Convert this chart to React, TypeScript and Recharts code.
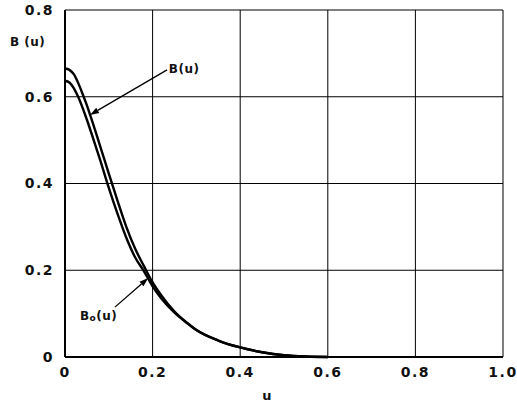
import { LineChart, Line, XAxis, YAxis, CartesianGrid, ReferenceLine, ReferenceDot } from "recharts";

const uValues = [0, 0.01, 0.02, 0.03, 0.04, 0.05, 0.06, 0.08, 0.1, 0.12, 0.14, 0.16, 0.18, 0.2, 0.22, 0.25, 0.28, 0.3, 0.35, 0.4, 0.45, 0.5, 0.55, 0.6];
const bValues = [0.665, 0.662, 0.652, 0.632, 0.607, 0.58, 0.55, 0.487, 0.423, 0.36, 0.3, 0.25, 0.21, 0.172, 0.142, 0.105, 0.078, 0.062, 0.038, 0.022, 0.011, 0.004, 0.001, 0];
const b0Values = [0.637, 0.633, 0.62, 0.6, 0.575, 0.547, 0.517, 0.455, 0.39, 0.33, 0.275, 0.23, 0.198, 0.163, 0.135, 0.102, 0.077, 0.062, 0.038, 0.022, 0.011, 0.004, 0.001, 0];
const xTicks = [0, 0.2, 0.4, 0.6, 0.8, 1.0];
const yTicks = [0, 0.2, 0.4, 0.6, 0.8];

const data = uValues.map((u, i) => ({ u, b: bValues[i], b0: b0Values[i] }));

const font = "'DejaVu Sans', Arial, sans-serif";
const tickStyle = { fontSize: 14, fontWeight: 700, fill: "#111", fontFamily: font, letterSpacing: 1.5 };

const fmtX = (v: number) => (v === 0 ? "0" : v.toFixed(1));
const fmtY = (v: number) => (v === 0 ? "0" : v.toFixed(1));

// line with an arrowhead at the (x2, y2) end
const Arrow = (props: any) => {
  const { x1, y1, x2, y2 } = props;
  const ang = Math.atan2(y2 - y1, x2 - x1);
  const len = 9;
  const w = 3;
  const bx = x2 - len * Math.cos(ang);
  const by = y2 - len * Math.sin(ang);
  const px = -Math.sin(ang) * w;
  const py = Math.cos(ang) * w;
  return (
    <g>
      <line x1={x1} y1={y1} x2={bx} y2={by} stroke="#000" strokeWidth={1.3} />
      <polygon points={`${x2},${y2} ${bx + px},${by + py} ${bx - px},${by - py}`} fill="#000" />
    </g>
  );
};

const TextLabel = (text: string, sub?: string) => (props: any) => {
  const { cx, cy } = props;
  return (
    <text x={cx} y={cy} dy={5} fontSize={12} fontWeight={700} fontFamily={font} fill="#111" textAnchor="start" letterSpacing={0.5}>
      {sub ? (
        <>
          B<tspan fontSize={9} dy={1}>{sub}</tspan>
          <tspan dy={-1}>(u)</tspan>
        </>
      ) : (
        text
      )}
    </text>
  );
};

const App = () => {
  return (
    <div style={{ position: "fixed", left: 0, top: 0, background: "#fff" }}>
      <LineChart width={517} height={406} data={data} margin={{ top: 10, right: 14, bottom: 0, left: 0 }}>
        <CartesianGrid stroke="#000" strokeWidth={1} horizontalValues={yTicks} verticalValues={xTicks} />
        <XAxis
          dataKey="u"
          type="number"
          domain={[0, 1]}
          ticks={xTicks}
          tickFormatter={fmtX}
          height={49}
          tick={tickStyle}
          tickLine={false}
          tickMargin={4}
          axisLine={{ stroke: "#000", strokeWidth: 2 }}
          label={{ value: "u", position: "insideBottom", offset: 6, dx: -17, style: { fontSize: 13, fontWeight: 700, fill: "#111", fontFamily: font } }}
        />
        <YAxis
          type="number"
          domain={[0, 0.8]}
          ticks={yTicks}
          tickFormatter={fmtY}
          width={65}
          tick={tickStyle}
          tickLine={false}
          tickMargin={5}
          axisLine={{ stroke: "#000", strokeWidth: 2 }}
          label={{ value: "B (u)", position: "insideTopLeft", offset: 10, dy: 17, style: { fontSize: 12, fontWeight: 700, fill: "#111", fontFamily: font, letterSpacing: 0.5 } }}
        />
        <Line type="monotone" dataKey="b" stroke="#000" strokeWidth={2.4} dot={false} isAnimationActive={false} />
        <Line type="monotone" dataKey="b0" stroke="#000" strokeWidth={2.4} dot={false} isAnimationActive={false} />
        <ReferenceLine segment={[{ x: 0.233, y: 0.662 }, { x: 0.057, y: 0.558 }]} shape={Arrow} ifOverflow="visible" />
        <ReferenceLine segment={[{ x: 0.114, y: 0.115 }, { x: 0.19, y: 0.182 }]} shape={Arrow} ifOverflow="visible" />
        <ReferenceDot x={0.237} y={0.667} r={0} shape={TextLabel("B(u)")} ifOverflow="visible" />
        <ReferenceDot x={0.034} y={0.097} r={0} shape={TextLabel("Bo(u)", "o")} ifOverflow="visible" />
      </LineChart>
    </div>
  );
};

export default App;
